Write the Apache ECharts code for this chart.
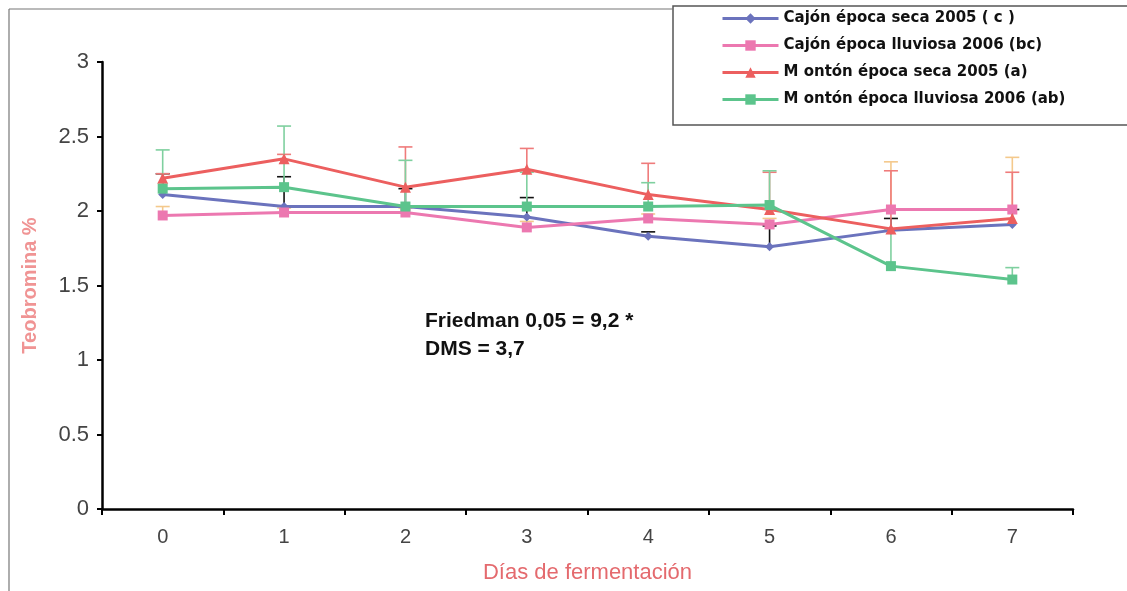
<!DOCTYPE html>
<html>
<head>
<meta charset="utf-8">
<script src="https://cdn.jsdelivr.net/npm/echarts@6/dist/echarts.min.js"></script>
<style>
  html, body { margin: 0; padding: 0; background: #fff; }
  #chart { width: 1127px; height: 591px; }
</style>
</head>
<body>
<div id="chart"></div>
<script>
// Días de fermentación
const dias = ['0', '1', '2', '3', '4', '5', '6', '7'];

// Teobromina (%) por tratamiento
const cajonSeca      = [2.11, 2.03, 2.03, 1.96, 1.83, 1.76, 1.87, 1.91];
const cajonLluviosa  = [1.97, 1.99, 1.99, 1.89, 1.95, 1.91, 2.01, 2.01];
const montonSeca     = [2.22, 2.35, 2.16, 2.28, 2.11, 2.01, 1.88, 1.95];
const montonLluviosa = [2.15, 2.16, 2.03, 2.03, 2.03, 2.04, 1.63, 1.54];

// Extremo superior de las barras de error
const cajonSecaSup      = [2.25, 2.23, 2.15, 2.09, 1.86, 1.90, 1.95, 2.01];
const cajonLluviosaSup  = [2.03, 2.02, 2.02, 1.93, 1.98, 1.95, 2.33, 2.36];
const montonSecaSup     = [2.25, 2.38, 2.43, 2.42, 2.32, 2.26, 2.27, 2.26];
const montonLluviosaSup = [2.41, 2.57, 2.34, 2.26, 2.19, 2.27, 1.88, 1.62];

const yTicks = [0, 0.5, 1, 1.5, 2, 2.5, 3];

const nombres = [
  'Cajón época seca 2005 ( c )',
  'Cajón época lluviosa 2006 (bc)',
  'M ontón época seca 2005 (a)',
  'M ontón época lluviosa 2006 (ab)'
];

const colores = ['#6b73bd', '#ec78b0', '#ec5f5f', '#5cc48c'];
const coloresError = ['#111111', '#f4c98c', '#ef7b7b', '#7fd09f'];
const simbolos = ['diamond', 'rect', 'triangle', 'rect'];
const tamanos = [9, 10, 11, 10];

const valores = [cajonSeca, cajonLluviosa, montonSeca, montonLluviosa];
const superiores = [cajonSecaSup, cajonLluviosaSup, montonSecaSup, montonLluviosaSup];

// Barra de error vertical con tapa superior
function barraError(color) {
  return function (params, api) {
    const x = api.value(0);
    const base = api.coord([x, api.value(1)]);
    const tope = api.coord([x, api.value(2)]);
    const w = 7;
    return {
      type: 'group',
      children: [
        { type: 'line', shape: { x1: base[0], y1: base[1], x2: tope[0], y2: tope[1] },
          style: { stroke: color, lineWidth: 1.6 } },
        { type: 'line', shape: { x1: tope[0] - w, y1: tope[1], x2: tope[0] + w, y2: tope[1] },
          style: { stroke: color, lineWidth: 1.6 } }
      ]
    };
  };
}

const series = [];
valores.forEach((v, i) => {
  series.push({
    type: 'custom',
    name: nombres[i] + ' error',
    renderItem: barraError(coloresError[i]),
    data: v.map((y, k) => [k, y, superiores[i][k]]),
    encode: { x: 0, y: [1, 2] },
    z: 1,
    silent: true
  });
});
valores.forEach((v, i) => {
  series.push({
    type: 'line',
    name: nombres[i],
    data: v,
    symbol: simbolos[i],
    symbolSize: tamanos[i],
    showAllSymbol: true,
    lineStyle: { color: colores[i], width: 3 },
    itemStyle: { color: colores[i] },
    z: 3 + i
  });
});

const chart = echarts.init(document.getElementById('chart'), null, { renderer: 'canvas' });
chart.setOption({
  backgroundColor: '#ffffff',
  animation: false,
  textStyle: { fontFamily: 'Liberation Sans, Arial, sans-serif' },
  grid: { left: 102, right: 54, top: 62, bottom: 82 },
  legend: {
    data: nombres,
    orient: 'vertical',
    left: 716,
    top: 6,
    itemWidth: 56,
    itemHeight: 13,
    itemGap: 12,
    lineStyle: { width: 3 },
    textStyle: { fontFamily: 'DejaVu Sans', fontWeight: 'bold', fontSize: 15, color: '#111' }
  },
  xAxis: {
    type: 'category',
    data: dias,
    boundaryGap: true,
    name: 'Días de fermentación',
    nameLocation: 'middle',
    nameGap: 53,
    nameTextStyle: { color: '#e46a6e', fontSize: 22 },
    axisLine: { lineStyle: { color: '#000', width: 2.5 } },
    axisTick: { show: true, length: 6, lineStyle: { color: '#000', width: 2 } },
    axisLabel: { color: '#444', fontSize: 20, margin: 18,
      fontFamily: 'Liberation Sans Narrow, Liberation Sans, Arial, sans-serif' }
  },
  yAxis: {
    type: 'value',
    min: yTicks[0],
    max: yTicks[yTicks.length - 1],
    interval: 0.5,
    name: 'Teobromina %',
    nameLocation: 'middle',
    nameGap: 62,
    nameTextStyle: { color: '#f09494', fontSize: 20, fontWeight: 'bold' },
    axisLine: { show: true, lineStyle: { color: '#000', width: 2.5 } },
    axisTick: { show: true, length: 5, lineStyle: { color: '#000', width: 2 } },
    axisLabel: { color: '#444', fontSize: 22, margin: 13 },
    splitLine: { show: false }
  },
  graphic: [
    { type: 'line', shape: { x1: 9, y1: 9, x2: 673, y2: 9 }, style: { stroke: '#777', lineWidth: 1.2 } },
    { type: 'line', shape: { x1: 9, y1: 9, x2: 9, y2: 591 }, style: { stroke: '#777', lineWidth: 1.2 } },
    { type: 'rect', shape: { x: 673, y: 6, width: 470, height: 119 },
      style: { fill: 'none', stroke: '#555', lineWidth: 1.5 }, z: -1 },
    { type: 'text', left: 425, top: 311,
      style: { text: 'Friedman 0,05 = 9,2 *', font: 'bold 21px Liberation Sans, Arial, sans-serif', fill: '#111' } },
    { type: 'text', left: 425, top: 339,
      style: { text: 'DMS = 3,7', font: 'bold 21px Liberation Sans, Arial, sans-serif', fill: '#111' } }
  ],
  series: series
});
</script>
</body>
</html>
